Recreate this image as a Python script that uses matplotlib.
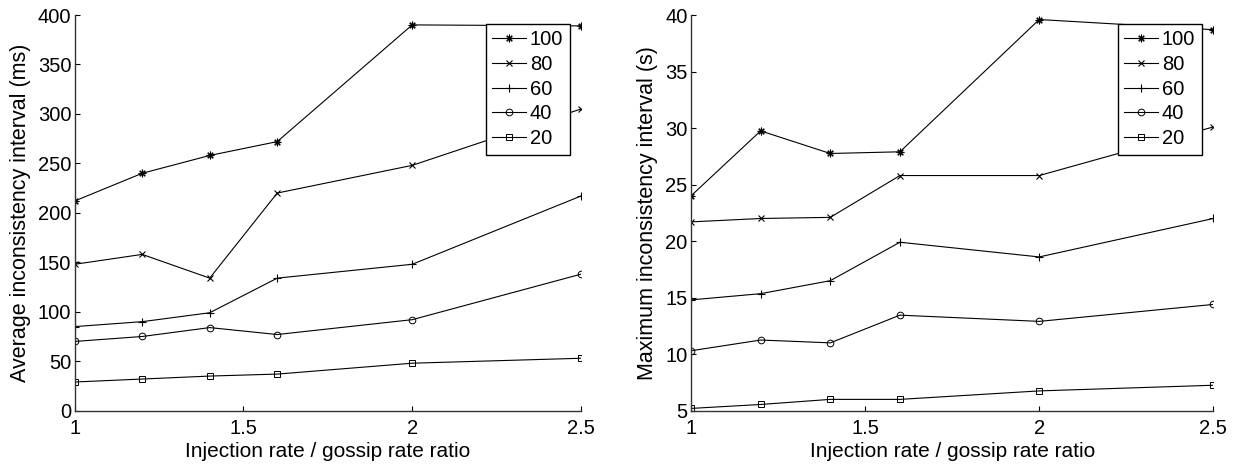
import numpy as np
import matplotlib
matplotlib.use('Agg')
import matplotlib.pyplot as plt

plt.rcParams['font.family'] = ['Liberation Sans', 'DejaVu Sans']

# x axis: injection rate / gossip rate ratio
ratio = [1, 1.2, 1.4, 1.6, 2, 2.5]
series_names = ['100', '80', '60', '40', '20']

# average inconsistency interval (ms)
avg_100 = [212, 240, 258, 272, 390, 389]
avg_80 = [148, 158, 134, 220, 248, 305]
avg_60 = [85, 90, 99, 134, 148, 217]
avg_40 = [70, 75, 84, 77, 92, 138]
avg_20 = [29, 32, 35, 37, 48, 53]

# maximum inconsistency interval (s)
max_100 = [24.0, 29.75, 27.75, 27.9, 39.6, 38.7]
max_80 = [21.7, 22.0, 22.1, 25.8, 25.8, 30.1]
max_60 = [14.8, 15.35, 16.5, 19.9, 18.6, 22.0]
max_40 = [10.3, 11.25, 11.0, 13.45, 12.9, 14.4]
max_20 = [5.2, 5.55, 6.0, 6.0, 6.75, 7.25]

# matlab-like markers: asterisk, x, plus, open circle, open square
marker_style = [
    dict(marker=(8, 2, 0), ms=5.5, mew=0.8),
    dict(marker='x', ms=3.8, mew=0.8),
    dict(marker='+', ms=5.5, mew=0.8),
    dict(marker='o', ms=4.8, mew=0.7, mfc='none'),
    dict(marker='s', ms=4.0, mew=0.7, mfc='none'),
]


def draw(ax, data, ylim, yticks, ylabel):
    for vals, name, st in zip(data, series_names, marker_style):
        ax.plot(ratio, vals, color='black', mec='black', lw=0.8, label=name, **st)
    ax.set_xlim(1, 2.5)
    ax.set_ylim(*ylim)
    ax.set_xticks([1, 1.5, 2, 2.5])
    ax.set_xticklabels(['1', '1.5', '2', '2.5'])
    ax.set_yticks(yticks)
    ax.spines['top'].set_visible(False)
    ax.spines['right'].set_visible(False)
    for sp in ax.spines.values():
        sp.set_linewidth(1.0)
        sp.set_color('#333333')
    ax.tick_params(direction='in', length=3.4, labelsize=14.5, width=0.8)
    ax.tick_params(axis='x', pad=6)
    ax.tick_params(axis='y', pad=2.5)
    ax.set_xlabel('Injection rate / gossip rate ratio', fontsize=15, labelpad=3)
    ax.set_ylabel(ylabel, fontsize=15.5, labelpad=5)
    leg = ax.legend(loc='upper right', bbox_to_anchor=(0.978, 0.978), borderaxespad=0,
                    fontsize=14.5, fancybox=False, framealpha=1, edgecolor='black',
                    handlelength=1.7, handletextpad=0.17, labelspacing=0.28,
                    borderpad=0.33)
    leg.get_frame().set_linewidth(1.0)


fig = plt.figure(figsize=(12.39, 4.66), dpi=100)
ax1 = fig.add_axes([0.0603, 0.1187, 0.4086, 0.8491])
ax2 = fig.add_axes([0.5577, 0.1187, 0.4216, 0.8491])

draw(ax1, [avg_100, avg_80, avg_60, avg_40, avg_20], (0, 400),
     np.arange(0, 401, 50), 'Average inconsistency interval (ms)')
draw(ax2, [max_100, max_80, max_60, max_40, max_20], (5, 40),
     np.arange(5, 41, 5), 'Maximum inconsistency interval (s)')

fig.savefig('out.png', dpi=100)
